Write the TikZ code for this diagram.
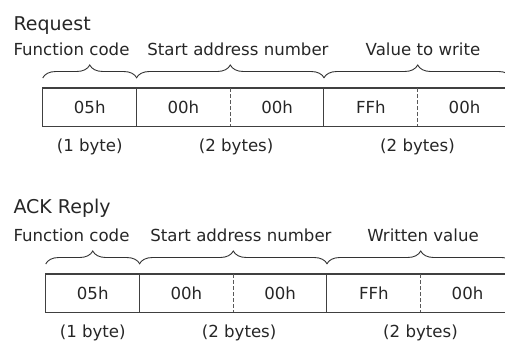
\documentclass[tikz,border=0pt]{standalone}
\usepackage{fontspec}
\setmainfont{DejaVu Sans}
\usetikzlibrary{decorations.pathreplacing,positioning}

\begin{document}
\begin{tikzpicture}[x=1pt,y=-1pt,font=\fontsize{16.6}{19}\selectfont,text=black!85,
  frame/.style={draw=black!75,line width=1.2pt},
  sep/.style={draw=black!65,line width=1pt,dash pattern=on 3.5pt off 2.5pt},
  fieldbrace/.style={draw=black!80,line width=0.9pt,decorate,decoration={brace,amplitude=13pt}},
  cell/.style={minimum width=93.7pt,minimum height=38pt,inner sep=0pt,anchor=north west}]
 \useasboundingbox (0,0) rectangle (505,343);
 \clip (0,0) rectangle (505,343);
 \foreach \dx/\dy/\ty/\title/\field/\m in {0/0/30/Request/Value to write/q,3/186/27/ACK Reply/Written value/a}{
  \begin{scope}[shift={(0,\dy)}]
   \node[anchor=base west,font=\fontsize{19}{22}\selectfont] (\m title) at (10,\ty) {\title};
   % the five bytes
   \foreach \t [count=\i from 0] in {05h,00h,00h,FFh,00h}
    \node[cell] (\m\i) at ({42.7+\dx+93.7*\i},88) {\t};
   \draw[frame] (\m0.north west) rectangle (\m4.south east);
   \draw[frame] (\m1.north west) -- (\m1.south west) (\m3.north west) -- (\m3.south west);
   \draw[sep] (\m2.north west) -- (\m2.south west) (\m4.north west) -- (\m4.south west);
   % fields
   \draw[fieldbrace] ([yshift=10pt]\m0.north west) -- ([yshift=10pt]\m0.north east);
   \draw[fieldbrace] ([yshift=10pt]\m1.north west) -- ([yshift=10pt]\m2.north east);
   \draw[fieldbrace] ([yshift=10pt]\m3.north west) -- ([yshift=10pt]\m4.north east);
   \node[anchor=base west] (\m f1) at (10,55) {Function code};
   \node[anchor=base] (\m f2) at (238+\dx,55) {Start address number};
   \node[anchor=base] (\m f3) at (423,55) {\field};
   % sizes
   \node[anchor=base] (\m s1) at ([yshift=-25pt]\m0.south) {(1 byte)};
   \node[anchor=base] (\m s2) at ([xshift=6pt,yshift=-25pt]\m2.south west) {(2 bytes)};
   \node[anchor=base] (\m s3) at ([yshift=-25pt]\m4.south west) {(2 bytes)};
  \end{scope}
 }
\end{tikzpicture}
\end{document}
